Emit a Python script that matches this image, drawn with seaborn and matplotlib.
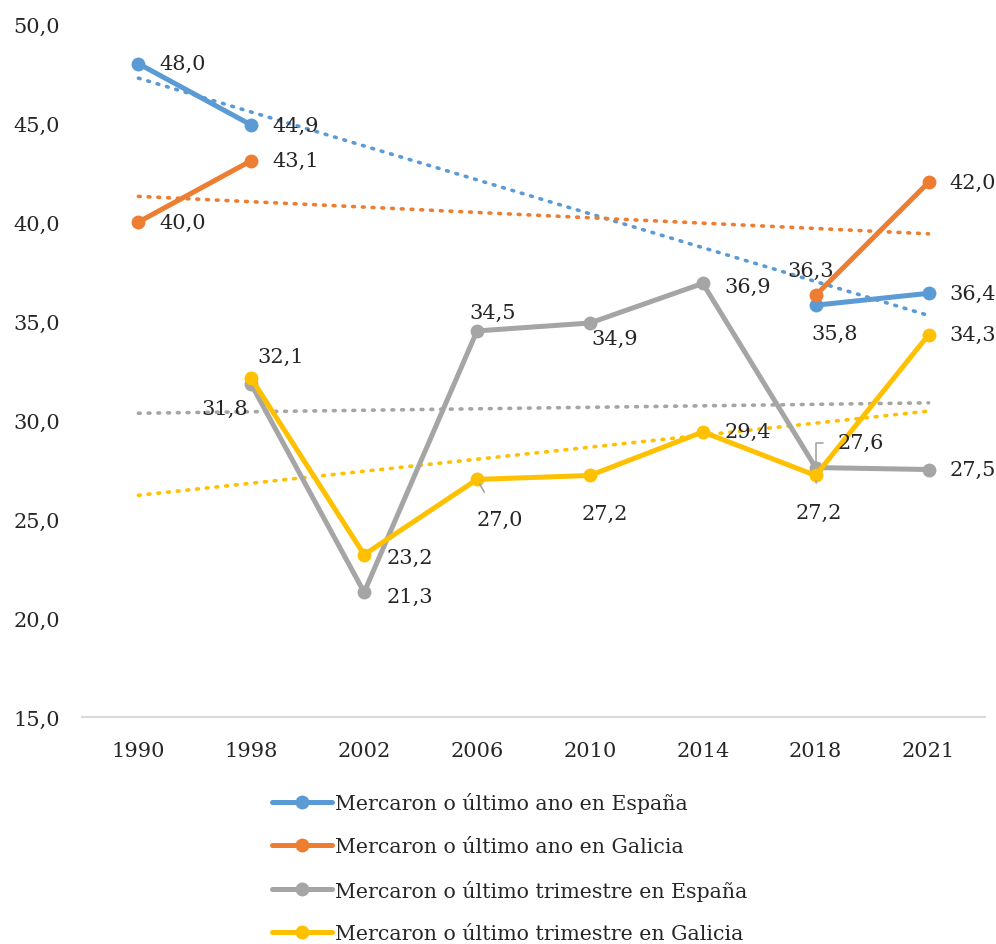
import numpy as np
import pandas as pd
import seaborn as sns
import matplotlib.pyplot as plt
from matplotlib.lines import Line2D
from matplotlib.ticker import FuncFormatter

# data
years = ['1990', '1998', '2002', '2006', '2010', '2014', '2018', '2021']
ano_espana = [48.0, 44.9, np.nan, np.nan, np.nan, np.nan, 35.8, 36.4]
ano_galicia = [40.0, 43.1, np.nan, np.nan, np.nan, np.nan, 36.3, 42.0]
trim_espana = [np.nan, 31.8, 21.3, 34.5, 34.9, 36.9, 27.6, 27.5]
trim_galicia = [np.nan, 32.1, 23.2, 27.0, 27.2, 29.4, 27.2, 34.3]

series_names = ['Mercaron o último ano en España',
                'Mercaron o último ano en Galicia',
                'Mercaron o último trimestre en España',
                'Mercaron o último trimestre en Galicia']
series_vals = [ano_espana, ano_galicia, trim_espana, trim_galicia]
colors = ['#5B9BD5', '#ED7D31', '#A5A5A5', '#FFC000']

# label placement per point: (dx px, dy px, ha, leader)
R = (21, 0, 'left', None)
label_pos = [
    [R, R, None, None, None, None, (19, -28, 'center', None), R],
    [R, R, None, None, None, None, (-5, 25, 'center', None), R],
    [None, (-27, -24, 'center', None), (22, -4, 'left', None), (16, 19, 'center', None),
     (25, -15, 'center', None), (22, -3, 'left', None), (22, 25, 'left', 'elbow'), R],
    [None, (29, 22, 'center', None), (22, -3, 'left', None), (23, -40, 'center', 'line'),
     (15, -38, 'center', None), (22, 0, 'left', None), (3, -37, 'center', 'line'), R],
]

rows = []
for name, vals in zip(series_names, series_vals):
    seg = 0
    prev_nan = True
    for i, v in enumerate(vals):
        if np.isnan(v):
            prev_nan = True
            continue
        if prev_nan:
            seg += 1
        prev_nan = False
        rows.append({'serie': name, 'pos': i, 'val': v, 'seg': seg})
df = pd.DataFrame(rows)

sns.set_style('white')
plt.rcParams['font.family'] = ['DejaVu Serif']

fig = plt.figure(figsize=(9.96, 9.45), dpi=100)
ax = fig.add_axes([0.0823, 0.2402, 0.9066, 0.7333])

sns.lineplot(data=df, x='pos', y='val', hue='serie', units='seg', estimator=None,
             palette=dict(zip(series_names, colors)), hue_order=series_names,
             marker='o', markersize=10, markeredgewidth=0, linewidth=3.6,
             legend=False, ax=ax, zorder=3)

# linear trend lines (Excel style, x = 1..8)
xs = np.arange(len(years))
for vals, c in zip(series_vals, colors):
    v = np.array(vals)
    ok = ~np.isnan(v)
    k, b = np.polyfit(xs[ok], v[ok], 1)
    ax.plot(xs, k * xs + b, color=c, linestyle=(0, (0.5, 2.2)), linewidth=2.6,
            dash_capstyle='round', zorder=2)

# data labels
for vals, pos in zip(series_vals, label_pos):
    for i, v in enumerate(vals):
        if np.isnan(v) or pos[i] is None:
            continue
        dx, dy, ha, leader = pos[i]
        txt = f'{v:.1f}'.replace('.', ',')
        if leader == 'elbow':
            ax.annotate(txt, (i, v), xytext=(dx, dy), textcoords='offset pixels',
                        ha=ha, va='center', fontsize=15, zorder=5,
                        arrowprops=dict(arrowstyle='-', color='#A5A5A5', lw=1.2,
                                        connectionstyle='angle,angleA=0,angleB=90',
                                        shrinkA=8, shrinkB=4))
        elif leader == 'line':
            ax.annotate(txt, (i, v), xytext=(dx, dy), textcoords='offset pixels',
                        ha=ha, va='center', fontsize=15, zorder=5,
                        arrowprops=dict(arrowstyle='-', color='#A5A5A5', lw=1.2,
                                        shrinkA=12, shrinkB=4))
        else:
            ax.annotate(txt, (i, v), xytext=(dx, dy), textcoords='offset pixels',
                        ha=ha, va='center', fontsize=15, zorder=5)

ax.set_xlim(-0.5, 7.5)
ax.set_ylim(15, 50)
ax.set_yticks(np.arange(15, 51, 5))
ax.yaxis.set_major_formatter(FuncFormatter(lambda y, p: f'{y:.1f}'.replace('.', ',')))
ax.set_xticks(xs)
ax.set_xticklabels(years)
ax.set_xlabel('')
ax.set_ylabel('')
ax.tick_params(axis='both', length=0, labelsize=15)
ax.tick_params(axis='y', pad=16)
ax.tick_params(axis='x', pad=17)
for s in ['top', 'right', 'left']:
    ax.spines[s].set_visible(False)
ax.spines['bottom'].set_color('#D9D9D9')
ax.spines['bottom'].set_linewidth(1.5)
ax.grid(False)

handles = [Line2D([], [], color=c, lw=3.6, marker='o', markersize=10, markeredgewidth=0)
           for c in colors]
fig.legend(handles, series_names, loc='upper left', bbox_to_anchor=(0.273, 0.161),
           frameon=False, fontsize=14.8, handlelength=2.9, handletextpad=0.15,
           labelspacing=1.16, borderaxespad=0, borderpad=0)

fig.savefig('out.png', dpi=100)
